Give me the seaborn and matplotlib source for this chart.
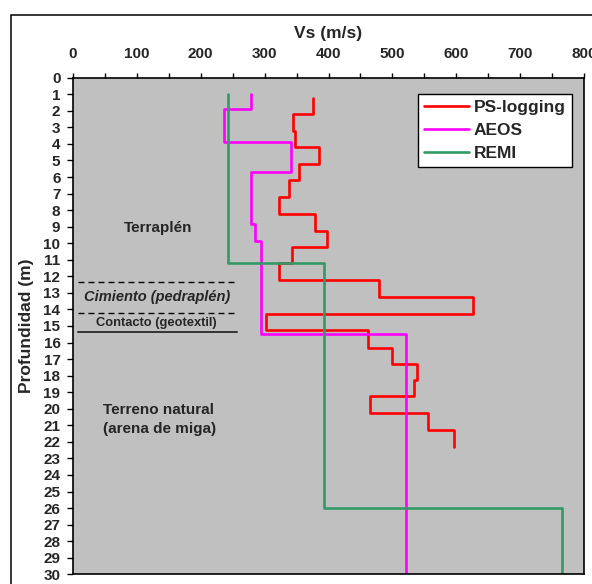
import pandas as pd
import matplotlib.pyplot as plt
import seaborn as sns
from matplotlib.patches import Rectangle

# layer limits (m) and Vs of each layer (m/s)
ps_depth = [1.2, 2.2, 3.2, 4.2, 5.2, 6.2, 7.2, 8.25, 9.25, 10.25, 11.2,
            12.2, 13.25, 14.25, 15.25, 16.3, 17.3, 18.25, 19.25, 20.25, 21.3, 22.3]
ps_vs = [375, 345, 348, 385, 354, 338, 323, 379, 398, 343, 322,
         479, 626, 303, 461, 499, 539, 533, 465, 555, 597]
aeos_depth = [1.0, 1.9, 3.9, 5.7, 8.85, 9.85, 15.5, 30]
aeos_vs = [279, 236, 341, 279, 285, 295, 521]
remi_depth = [1.0, 11.2, 26.0, 30]
remi_vs = [243, 393, 765]

methods = ['PS-logging', 'AEOS', 'REMI']
colors = ['#ff0000', '#ff00ff', '#339966']

x_ticks = list(range(0, 801, 100))
y_ticks = list(range(0, 31))


def profile(name, depth, vs):
    # step profile: each layer is a vertical segment
    rows = []
    for i, v in enumerate(vs):
        rows.append((name, v, depth[i]))
        rows.append((name, v, depth[i + 1]))
    return pd.DataFrame(rows, columns=['method', 'Vs', 'z'])


df = pd.concat([profile(methods[0], ps_depth, ps_vs),
                profile(methods[1], aeos_depth, aeos_vs),
                profile(methods[2], remi_depth, remi_vs)], ignore_index=True)

sns.set_theme(style='ticks')
plt.rcParams['font.family'] = ['Liberation Sans', 'DejaVu Sans']
plt.rcParams['font.weight'] = 'bold'

fig = plt.figure(figsize=(5.92, 5.84), dpi=100)
ax = fig.add_axes([72.7 / 592, 1 - 574.3 / 584, (584.3 - 72.7) / 592, (574.3 - 77.7) / 584])
ax.set_facecolor('#c0c0c0')

sns.lineplot(data=df, x='Vs', y='z', hue='method', hue_order=methods,
             palette=dict(zip(methods, colors)), sort=False, estimator=None,
             lw=1.9, ax=ax)

ax.set_xlim(0, 800)
ax.set_ylim(30, 0)
ax.set_xticks(x_ticks)
ax.set_xticks(range(50, 800, 100), minor=True)
ax.set_yticks(y_ticks)
ax.xaxis.tick_top()
ax.xaxis.set_label_position('top')
ax.tick_params(axis='x', which='both', direction='out', length=3.6, width=1,
               color='black', pad=8.6, labelsize=11)
ax.tick_params(axis='y', direction='out', length=4.3, width=1, color='black',
               pad=4.5, labelsize=11)
for lab in ax.get_xticklabels() + ax.get_yticklabels():
    lab.set_fontweight('bold')
for s in ax.spines.values():
    s.set_visible(True)
    s.set_color('black')
    s.set_linewidth(1.2)

ax.set_xlabel('Vs (m/s)', fontsize=12.5, fontweight='bold')
ax.set_ylabel('Profundidad (m)', fontsize=12.5, fontweight='bold')
ax.xaxis.set_label_coords(0.5, 1.08)
ax.yaxis.set_label_coords(-0.0756, 0.5)

# layer annotations
ax.plot([9, 256], [12.32, 12.32], color='black', lw=1, ls=(0, (4.3, 2.9)))
ax.plot([9, 256], [14.23, 14.23], color='black', lw=1, ls=(0, (4.3, 2.9)))
ax.plot([9, 257], [15.38, 15.38], color='#333333', lw=1.4)
ax.text(133, 9.1, 'Terraplén', ha='center', va='center', fontsize=11, fontweight='bold')
ax.text(132, 13.23, 'Cimiento (pedraplén)', ha='center', va='center',
        fontsize=10.5, fontweight='bold', style='italic')
ax.text(130, 14.84, 'Contacto (geotextil)', ha='center', va='center',
        fontsize=9.3, fontweight='bold')
ax.text(47, 20.65, 'Terreno natural\n(arena de miga)', ha='left', va='center',
        fontsize=11, fontweight='bold', linespacing=1.45)

sns.move_legend(ax, 'upper right', bbox_to_anchor=(0.976, 0.967), title=None,
                frameon=True, fancybox=False, framealpha=1, edgecolor='black',
                prop={'weight': 'bold', 'size': 12.5}, handlelength=2.6,
                handletextpad=0.3, labelspacing=0.45, borderpad=0.35,
                borderaxespad=0)
ax.get_legend().get_frame().set_linewidth(1)

# outer frame of the chart sheet
fig.add_artist(Rectangle((11 / 592, -0.1), 1.2, 1 - 15 / 584 + 0.1,
                         transform=fig.transFigure, fill=False,
                         edgecolor='black', lw=1.1))

fig.savefig('out.png', dpi=100)
